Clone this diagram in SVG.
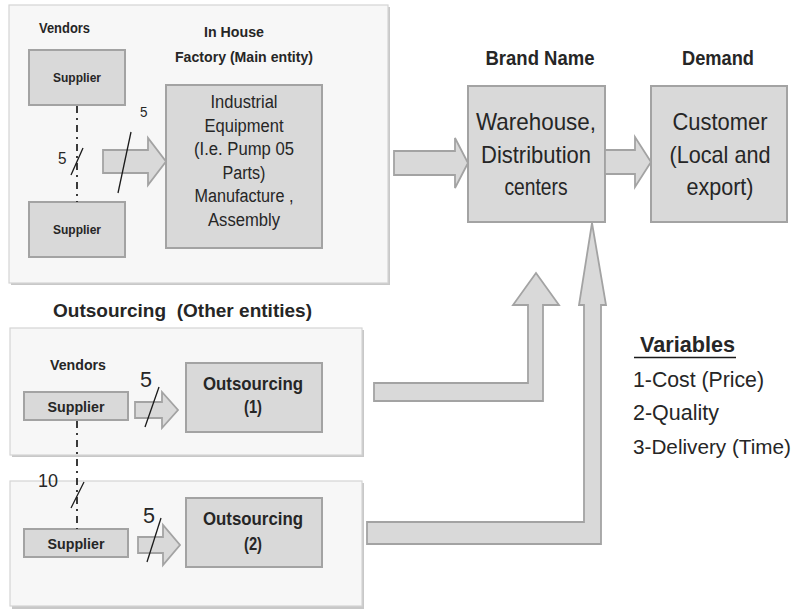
<svg xmlns="http://www.w3.org/2000/svg" width="801" height="610" viewBox="0 0 801 610">
<defs>
<style>
.panel{fill:#f7f7f7;stroke:#d4d4d4;stroke-width:1.2}
.shadow{fill:#c8c8c8}
.box{fill:#d9d9d9;stroke:#a3a3a3;stroke-width:2}
.arrow{fill:#d9d9d9;stroke:#a3a3a3;stroke-width:1.8;stroke-linejoin:miter}
.t{font-family:"Liberation Sans",Arial,sans-serif;fill:#262626}
.b{font-weight:bold}
.m{text-anchor:middle}
.slash{stroke:#1a1a1a;stroke-width:1.3;fill:none}
.dd{stroke:#262626;stroke-width:1.8;stroke-dasharray:7 5 2 5;fill:none}
</style>
</defs>
<rect width="801" height="610" fill="#ffffff"/>

<g id="panel-inhouse">
<rect class="shadow" x="11" y="7" width="379" height="278"/>
<rect class="panel" x="9" y="5" width="379" height="278"/>
<text class="t b" x="39" y="33" font-size="14" textLength="51" lengthAdjust="spacingAndGlyphs">Vendors</text>
<text class="t b m" x="234" y="37" font-size="15.5" textLength="60" lengthAdjust="spacingAndGlyphs">In House</text>
<text class="t b m" x="244" y="62" font-size="15.5" textLength="138" lengthAdjust="spacingAndGlyphs">Factory (Main entity)</text>
</g>

<g id="panel-outsourcing-1">
<rect class="shadow" x="12" y="330" width="352" height="127"/>
<rect class="panel" x="10" y="328" width="352" height="127"/>
<text class="t b" x="50" y="370" font-size="15" textLength="56" lengthAdjust="spacingAndGlyphs">Vendors</text>
</g>
<g id="panel-outsourcing-2">
<rect class="shadow" x="12" y="483" width="352" height="126"/>
<rect class="panel" x="10" y="481" width="352" height="125"/>
</g>

<text class="t b" x="53" y="317" font-size="19" xml:space="preserve" textLength="259" lengthAdjust="spacingAndGlyphs">Outsourcing  (Other entities)</text>

<g id="supplier-top">
<rect class="box" x="29" y="50" width="96" height="55"/>
<text class="t b m" x="77" y="82" font-size="13.5" textLength="48" lengthAdjust="spacingAndGlyphs">Supplier</text>
</g>
<g id="supplier-bottom">
<rect class="box" x="29" y="202" width="96" height="55"/>
<text class="t b m" x="77" y="234" font-size="13.5" textLength="48" lengthAdjust="spacingAndGlyphs">Supplier</text>
</g>
<g id="factory">
<rect class="box" x="166" y="85" width="156" height="163"/>
<text class="t m" x="244" y="108" font-size="18" textLength="67" lengthAdjust="spacingAndGlyphs">Industrial</text>
<text class="t m" x="244" y="132" font-size="18" textLength="79" lengthAdjust="spacingAndGlyphs">Equipment</text>
<text class="t m" x="244" y="155" font-size="18" textLength="100" lengthAdjust="spacingAndGlyphs">(I.e. Pump 05</text>
<text class="t m" x="244" y="179" font-size="18" textLength="43" lengthAdjust="spacingAndGlyphs">Parts)</text>
<text class="t m" x="244" y="202" font-size="18" textLength="99" lengthAdjust="spacingAndGlyphs">Manufacture ,</text>
<text class="t m" x="244" y="226" font-size="18" textLength="72" lengthAdjust="spacingAndGlyphs">Assembly</text>
</g>
<g id="warehouse">
<text class="t b m" x="540" y="65" font-size="20.5" textLength="109" lengthAdjust="spacingAndGlyphs">Brand Name</text>
<rect class="box" x="468" y="86" width="137" height="136"/>
<text class="t m" x="536" y="130" font-size="24" textLength="120" lengthAdjust="spacingAndGlyphs">Warehouse,</text>
<text class="t m" x="536" y="163" font-size="24" textLength="110" lengthAdjust="spacingAndGlyphs">Distribution</text>
<text class="t m" x="536" y="195" font-size="24" textLength="63" lengthAdjust="spacingAndGlyphs">centers</text>
</g>
<g id="customer">
<text class="t b m" x="718" y="65" font-size="20.5" textLength="72" lengthAdjust="spacingAndGlyphs">Demand</text>
<rect class="box" x="651" y="86" width="136" height="136"/>
<text class="t m" x="720" y="130" font-size="24" textLength="95" lengthAdjust="spacingAndGlyphs">Customer</text>
<text class="t m" x="720" y="163" font-size="24" textLength="101" lengthAdjust="spacingAndGlyphs">(Local and</text>
<text class="t m" x="720" y="195" font-size="24" textLength="67" lengthAdjust="spacingAndGlyphs">export)</text>
</g>
<g id="supplier-o1">
<rect class="box" x="24" y="392" width="104" height="28"/>
<text class="t b m" x="76" y="412" font-size="15" textLength="57" lengthAdjust="spacingAndGlyphs">Supplier</text>
</g>
<g id="outsourcing-1">
<rect class="box" x="186" y="363" width="136" height="69"/>
<text class="t b m" x="253" y="390" font-size="18.5" textLength="100" lengthAdjust="spacingAndGlyphs">Outsourcing</text>
<text class="t b m" x="253" y="413" font-size="18.5" textLength="18" lengthAdjust="spacingAndGlyphs">(1)</text>
</g>
<g id="supplier-o2">
<rect class="box" x="24" y="529" width="104" height="28"/>
<text class="t b m" x="76" y="549" font-size="15" textLength="57" lengthAdjust="spacingAndGlyphs">Supplier</text>
</g>
<g id="outsourcing-2">
<rect class="box" x="186" y="498" width="136" height="69"/>
<text class="t b m" x="253" y="525" font-size="18.5" textLength="100" lengthAdjust="spacingAndGlyphs">Outsourcing</text>
<text class="t b m" x="253" y="550" font-size="18.5" textLength="18" lengthAdjust="spacingAndGlyphs">(2)</text>
</g>

<g id="connectors">
<line class="dd" x1="77" y1="106" x2="77" y2="202"/>
<line class="dd" x1="77" y1="421" x2="77" y2="529"/>
<polygon class="arrow" points="103,150 148,150 148,138 166,161.5 148,185 148,173 103,173"/>
<polygon class="arrow" points="394,151 455,151 455,138 468,163 455,188 455,175 394,175"/>
<polygon class="arrow" points="605,150 635,150 635,137 651,162 635,187 635,174 605,174"/>
<polygon class="arrow" points="135,402 162,402 162,392 178,410 162,428 162,418 135,418"/>
<polygon class="arrow" points="138,537 163,537 163,525 180,545 163,565 163,553 138,553"/>
<polygon class="arrow" points="374,383 528,383 528,305 513,305 536,273 559,305 543,305 543,401 374,401"/>
<polygon class="arrow" points="367,522 584,522 584,305 579,305 592,223 606,305 601,305 601,544 367,544"/>
<line class="slash" x1="71" y1="175" x2="83" y2="148"/>
<line class="slash" x1="118" y1="193" x2="131" y2="132"/>
<line class="slash" x1="145" y1="427" x2="159" y2="387"/>
<line class="slash" x1="71" y1="508" x2="84" y2="482"/>
<line class="slash" x1="147" y1="562" x2="161" y2="518"/>
<text class="t" x="58" y="164" font-size="16" textLength="8.5" lengthAdjust="spacingAndGlyphs">5</text>
<text class="t" x="140" y="117" font-size="15" textLength="7.5" lengthAdjust="spacingAndGlyphs">5</text>
<text class="t" x="140" y="387" font-size="22" textLength="12" lengthAdjust="spacingAndGlyphs">5</text>
<text class="t" x="38" y="487" font-size="19" textLength="20" lengthAdjust="spacingAndGlyphs">10</text>
<text class="t" x="143" y="523" font-size="22" textLength="12" lengthAdjust="spacingAndGlyphs">5</text>
</g>

<g id="variables">
<text class="t b" x="640" y="352" font-size="22" textLength="95" lengthAdjust="spacingAndGlyphs">Variables</text>
<line x1="634" y1="357.5" x2="736" y2="357.5" stroke="#1a1a1a" stroke-width="1.6"/>
<text class="t" x="633" y="387" font-size="21.5" textLength="131" lengthAdjust="spacingAndGlyphs">1-Cost (Price)</text>
<text class="t" x="633" y="420" font-size="21.5" textLength="86" lengthAdjust="spacingAndGlyphs">2-Quality</text>
<text class="t" x="633" y="454" font-size="20.5" textLength="158" lengthAdjust="spacingAndGlyphs">3-Delivery (Time)</text>
</g>
</svg>
